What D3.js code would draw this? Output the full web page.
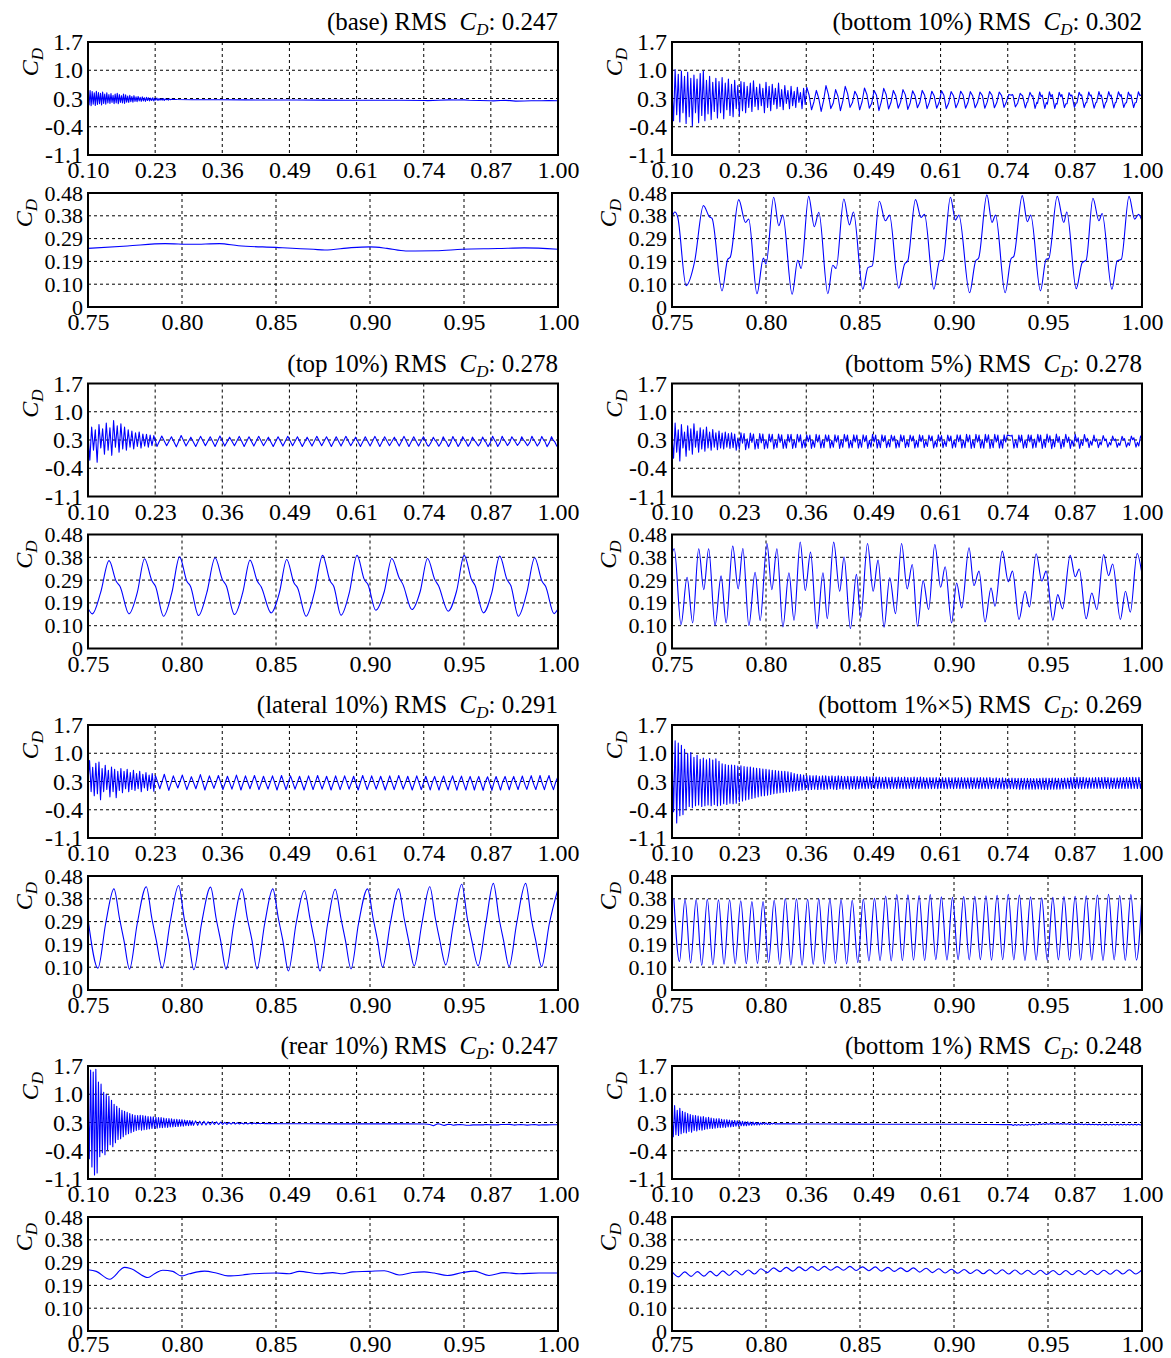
<!DOCTYPE html>
<html>
<head>
<meta charset="utf-8">
<script src="https://cdn.jsdelivr.net/npm/d3@7"></script>
<style>
  body { margin: 0; background: #fff; }
  svg text { font-family: "Liberation Serif", "Times New Roman", serif; }
</style>
</head>
<body>
<div id="chart"></div>
<script>
// ---- axis ticks ----
const topXTicks = [0.10, 0.2286, 0.3571, 0.4857, 0.6143, 0.7429, 0.8714, 1.00];
const topYTicks = [-1.1, -0.4, 0.3, 1.0, 1.7];
const topYLabels = ["-1.1", "-0.4", "0.3", "1.0", "1.7"];
const zoomXTicks = [0.75, 0.80, 0.85, 0.90, 0.95, 1.00];
const zoomYTicks = [0, 0.096, 0.192, 0.288, 0.384, 0.48];
const zoomYLabels = ["0", "0.10", "0.19", "0.29", "0.38", "0.48"];

// ---- panel names and RMS values ----
const caseNames = ["base", "bottom 10%", "top 10%", "bottom 5%", "lateral 10%", "bottom 1%\u00d75", "rear 10%", "bottom 1%"];
const rmsValues = ["0.247", "0.302", "0.278", "0.278", "0.291", "0.269", "0.247", "0.248"];

// ---- base ----
// evenly sampled 0.10 -> 0.26
const baseEarly = [0.46,0.14,0.50,0.12,0.47,0.16,0.44,0.13,0.48,0.15,
  0.45,0.17,0.43,0.14,0.46,0.18,0.41,0.16,0.44,0.19,
  0.40,0.18,0.42,0.20,0.38,0.17,0.41,0.19,0.43,0.17,
  0.40,0.20,0.37,0.19,0.41,0.18,0.39,0.21,0.36,0.20,
  0.38,0.22,0.35,0.21,0.37,0.23,0.34,0.22,0.35,0.24,
  0.33,0.23,0.34,0.24,0.32,0.23,0.33,0.25,0.32,0.24,
  0.31,0.25,0.32,0.24,0.30,0.26,0.31,0.25,0.30,0.26,
  0.29,0.26,0.30,0.25,0.29,0.27,0.28,0.26,0.29,0.27,0.28];
const baseLate = [[0.27,0.275],[0.30,0.27],[0.35,0.268],[0.40,0.265],[0.45,0.262],[0.50,0.262],
  [0.55,0.26],[0.60,0.258],[0.65,0.257],[0.70,0.256],[0.745,0.25]];
const baseZoom = [[0.75,0.247],[0.771,0.257],[0.791,0.267],[0.805,0.264],[0.82,0.267],[0.83,0.258],
  [0.85,0.251],[0.87,0.243],[0.876,0.240],[0.89,0.25],[0.90,0.253],[0.909,0.247],[0.919,0.236],
  [0.935,0.237],[0.949,0.243],[0.968,0.246],[0.982,0.249],[1.0,0.243]];

// ---- bottom 10% ----
// evenly sampled 0.10 -> 0.355
const b10Early = [0.55,-0.25,1.02,-0.10,0.90,-0.28,0.98,-0.05,0.85,-0.32,
  0.95,-0.15,0.80,-0.38,0.88,-0.05,0.78,-0.30,0.92,-0.12,
  0.98,-0.25,0.75,-0.08,0.85,-0.22,0.70,-0.02,0.80,-0.18,
  0.72,-0.05,0.82,-0.20,0.68,0.02,0.78,-0.12,0.65,-0.15,
  0.75,0.05,0.62,-0.12,0.72,0.00,0.70,-0.05,0.60,0.08,
  0.68,-0.02,0.74,0.10,0.58,0.02,0.66,0.12,0.55,-0.05,
  0.70,0.08,0.60,0.00,0.65,0.15,0.55,0.05,0.68,0.10,
  0.52,0.02,0.62,0.18,0.50,0.05,0.60,0.12,0.48,0.08,
  0.58,0.20,0.45,0.05,0.55,0.15];
// evenly sampled 0.358 -> 0.745 (peak, dip, trough, shoulder per cycle)
const b10Mid = [0.58,0.38,0.02,0.22, 0.50,0.30,-0.02,0.25, 0.62,0.40,0.05,0.18, 0.52,0.35,0.00,0.24,
  0.60,0.42,0.08,0.20, 0.48,0.36,0.02,0.22, 0.56,0.40,0.06,0.18, 0.50,0.38,0.00,0.22,
  0.55,0.40,0.04,0.20, 0.50,0.37,0.06,0.21, 0.52,0.39,0.03,0.19, 0.49,0.37,0.07,0.20,
  0.50,0.38,0.05,0.21, 0.48,0.36,0.06,0.20, 0.49,0.38,0.05,0.19, 0.47,0.37,0.07,0.21,
  0.48,0.38,0.06,0.20, 0.47,0.36,0.07,0.20, 0.46,0.37,0.06,0.21, 0.47,0.38,0.07,0.20,
  0.46,0.37,0.08,0.22, 0.40];
const b10Zoom = [[0.7501,0.38],[0.7515,0.40],[0.7530,0.38],[0.7575,0.09],[0.7620,0.19],[0.7667,0.427],
  [0.7699,0.38],[0.7713,0.373],[0.7766,0.068],[0.7796,0.20],[0.7810,0.21],[0.7855,0.452],
  [0.7891,0.356],[0.7908,0.37],[0.7952,0.056],[0.7986,0.206],[0.8000,0.18],[0.8041,0.462],
  [0.8068,0.342],[0.8089,0.387],[0.8139,0.054],[0.8169,0.197],[0.8187,0.162],[0.8227,0.466],
  [0.8257,0.338],[0.8281,0.399],[0.8329,0.056],[0.8355,0.176],[0.8373,0.162],[0.8414,0.455],
  [0.8444,0.346],[0.8465,0.40],[0.8515,0.075],[0.8542,0.166],[0.8565,0.173],[0.8603,0.445],
  [0.8635,0.363],[0.8657,0.387],[0.8706,0.079],[0.8737,0.18],[0.8754,0.194],[0.8795,0.452],
  [0.8825,0.377],[0.8843,0.39],[0.8893,0.075],[0.8923,0.194],[0.8941,0.198],[0.8981,0.462],
  [0.9008,0.366],[0.9026,0.387],[0.9083,0.06],[0.9115,0.194],[0.9131,0.206],[0.9175,0.472],
  [0.9202,0.356],[0.9221,0.387],[0.9272,0.06],[0.9304,0.204],[0.9318,0.213],[0.9363,0.469],
  [0.9390,0.359],[0.9408,0.387],[0.9460,0.068],[0.9490,0.201],[0.9504,0.204],[0.9549,0.466],
  [0.9584,0.356],[0.9600,0.40],[0.9650,0.077],[0.9682,0.187],[0.9703,0.197],[0.9739,0.458],
  [0.9771,0.363],[0.9788,0.394],[0.9840,0.075],[0.9868,0.194],[0.9890,0.201],[0.9931,0.466],
  [0.9961,0.37],[0.9982,0.39],[1.0,0.363]];

// ---- top 10% ----
// evenly sampled 0.10 -> 0.226
const t10Early = [0.45,-0.20,0.62,0.05,0.55,-0.25,0.68,0.10,0.58,-0.05,
  0.72,0.05,0.60,-0.08,0.78,0.12,0.65,0.00,0.70,0.08,
  0.62,0.05,0.55,0.12,0.52,0.08,0.48,0.14,0.50,0.10,
  0.45,0.15,0.44,0.12,0.42,0.16,0.41];
// evenly sampled 0.232 -> 0.7423 (trough, peak)
const t10Mid = [0.14,0.40,0.16,0.38,0.13,0.41,0.15,0.37,0.14,0.39,
  0.16,0.38,0.14,0.40,0.15,0.37,0.16,0.39,0.14,0.38,
  0.15,0.39,0.16,0.37,0.14,0.38,0.15,0.39,0.16,0.38,
  0.14,0.37,0.15,0.39,0.16,0.38,0.14,0.38,0.15,0.39,
  0.16,0.37,0.14,0.38,0.15,0.39,0.14,0.38,0.16,0.37,
  0.15,0.39,0.14,0.38,0.15,0.38];
const t10Zoom = [[0.7500,0.17],[0.7523,0.146],[0.7567,0.235],[0.7612,0.37],[0.7650,0.283],[0.7670,0.262],
  [0.7718,0.146],[0.7762,0.235],[0.7801,0.378],[0.7840,0.285],[0.7859,0.262],
  [0.7902,0.136],[0.7946,0.235],[0.7987,0.386],[0.8026,0.283],[0.8045,0.262],
  [0.8088,0.139],[0.8132,0.235],[0.8176,0.382],[0.8215,0.29],[0.8235,0.265],
  [0.8279,0.143],[0.8323,0.235],[0.8362,0.372],[0.8401,0.283],[0.8421,0.26],
  [0.8474,0.150],[0.8518,0.235],[0.8557,0.375],[0.8596,0.276],[0.8615,0.255],
  [0.8660,0.136],[0.8704,0.235],[0.8748,0.392],[0.8787,0.285],[0.8807,0.262],
  [0.8846,0.140],[0.8890,0.235],[0.8931,0.392],[0.8970,0.29],[0.8989,0.27],
  [0.9031,0.161],[0.9076,0.24],[0.9116,0.379],[0.9155,0.298],[0.9175,0.27],
  [0.9223,0.164],[0.9267,0.24],[0.9306,0.379],[0.9345,0.29],[0.9364,0.265],
  [0.9416,0.157],[0.9460,0.24],[0.9501,0.392],[0.9540,0.29],[0.9559,0.265],
  [0.9603,0.150],[0.9648,0.235],[0.9690,0.389],[0.9729,0.29],[0.9749,0.265],
  [0.9789,0.136],[0.9834,0.235],[0.9876,0.382],[0.9915,0.283],[0.9934,0.262],
  [0.9979,0.147],[1.0,0.167]];

// ---- bottom 5% ----
// evenly sampled 0.10 -> 0.22
const b5Early = [0.40,-0.15,0.72,0.00,0.55,-0.22,0.68,0.10,0.50,-0.10,
  0.65,0.05,0.58,-0.05,0.70,0.12,0.52,0.00,0.60,0.08,
  0.55,0.02,0.62,0.10,0.50,0.05,0.56,0.12,0.48,0.06,
  0.52,0.10,0.47,0.08,0.50,0.12,0.46,0.09,0.48,0.11,0.45];
// evenly sampled 0.223 -> 0.742
const b5Mid = [0.05,0.35,0.08,0.48,0.22,0.46, 0.06,0.33,0.10,0.47,0.24,0.45, 0.07,0.32,0.09,0.46,0.23,0.45,
  0.08,0.31,0.10,0.45,0.25,0.44, 0.08,0.30,0.11,0.45,0.24,0.43, 0.09,0.31,0.10,0.44,0.25,0.44,
  0.09,0.30,0.11,0.44,0.25,0.43, 0.10,0.30,0.11,0.43,0.26,0.42, 0.09,0.29,0.12,0.44,0.25,0.42,
  0.10,0.30,0.11,0.43,0.26,0.42, 0.10,0.29,0.12,0.43,0.25,0.41, 0.09,0.30,0.12,0.44,0.26,0.42,
  0.10,0.29,0.11,0.43,0.25,0.42, 0.10,0.30,0.12,0.43,0.26,0.41, 0.09,0.29,0.12,0.44,0.25,0.42,
  0.10,0.30,0.11,0.43,0.26,0.41, 0.11,0.28,0.13,0.42,0.27,0.40, 0.10,0.29,0.12,0.43,0.26,0.41,
  0.11,0.28,0.13,0.42,0.27,0.40, 0.10,0.29,0.12,0.43,0.26,0.41, 0.11,0.27,0.14,0.42,0.28,0.40,
  0.10,0.28,0.13,0.43,0.26,0.41, 0.11,0.28,0.14,0.42,0.27,0.40, 0.10,0.29,0.12,0.43,0.26,0.42,
  0.10,0.30,0.11,0.44,0.25,0.42, 0.09,0.30,0.11,0.44,0.25,0.42, 0.10,0.31,0.10,0.44,0.24,0.43,
  0.09,0.30,0.11,0.44,0.25,0.42, 0.10,0.31,0.10,0.43,0.25,0.42];
const b5Zoom = [[0.75,0.40],[0.7512,0.42],[0.7548,0.10],[0.7580,0.30],[0.7610,0.108],[0.7642,0.42],
  [0.7669,0.248],[0.7695,0.42],[0.7729,0.097],[0.7761,0.306],[0.7788,0.108],[0.7823,0.431],
  [0.7852,0.251],[0.7877,0.421],[0.7909,0.097],[0.7942,0.321],[0.7969,0.118],[0.8005,0.442],
  [0.8031,0.248],[0.8058,0.42],[0.8090,0.091],[0.8122,0.319],[0.8149,0.119],[0.8182,0.448],
  [0.8209,0.244],[0.8237,0.406],[0.8271,0.084],[0.8303,0.319],[0.8326,0.126],[0.8360,0.448],
  [0.8392,0.241],[0.8415,0.385],[0.8449,0.084],[0.8481,0.312],[0.8504,0.129],[0.8540,0.442],
  [0.8570,0.241],[0.8596,0.372],[0.8628,0.09],[0.8658,0.298],[0.8689,0.147],[0.8721,0.442],
  [0.8751,0.251],[0.8778,0.354],[0.8806,0.094],[0.8836,0.286],[0.8865,0.164],[0.8898,0.438],
  [0.8929,0.258],[0.8953,0.344],[0.8987,0.108],[0.9014,0.276],[0.9041,0.171],[0.9080,0.424],
  [0.9106,0.265],[0.9133,0.326],[0.9165,0.112],[0.9197,0.255],[0.9218,0.178],[0.9257,0.41],
  [0.9289,0.281],[0.9311,0.326],[0.9346,0.122],[0.9378,0.241],[0.9401,0.175],[0.9437,0.399],
  [0.9467,0.284],[0.9490,0.326],[0.9526,0.119],[0.9552,0.227],[0.9577,0.167],[0.9618,0.392],
  [0.9645,0.302],[0.9666,0.335],[0.9703,0.125],[0.9733,0.234],[0.9760,0.164],[0.9796,0.396],
  [0.9822,0.307],[0.9844,0.356],[0.9885,0.122],[0.9912,0.241],[0.9938,0.153],[0.9974,0.40],
  [1.0,0.312]];

// ---- lateral 10% ----
// evenly sampled 0.10 -> 0.229
const latEarly = [0.30,0.82,0.05,0.65,-0.05,0.75,0.00,0.78,-0.15,0.62,
  0.05,0.70,0.10,0.58,-0.08,0.66,0.05,0.60,-0.10,0.55,
  0.08,0.62,0.02,0.55,0.12,0.60,0.05,0.52,0.10,0.58,
  0.08,0.50,0.12,0.55,0.05,0.48,0.14,0.52,0.08,0.46,
  0.12,0.50,0.06,0.45];
// evenly sampled 0.2375 -> 0.7468 (trough, peak)
const latMid = [0.12,0.48,0.08,0.44,0.14,0.46,0.10,0.42,0.12,0.47,
  0.09,0.44,0.13,0.45,0.10,0.43,0.11,0.46,0.09,0.44,
  0.12,0.45,0.10,0.43,0.11,0.44,0.09,0.45,0.10,0.44,
  0.11,0.43,0.09,0.44,0.10,0.45,0.11,0.43,0.09,0.44,
  0.10,0.44,0.11,0.43,0.09,0.45,0.10,0.44,0.11,0.43,
  0.09,0.44,0.10,0.45,0.11,0.43,0.09,0.44,0.10,0.43];
const latZoom = [[0.75,0.30],
  [0.7553,0.092],[0.7594,0.28],[0.7638,0.426],[0.7668,0.30],[0.7691,0.21],
  [0.7721,0.088],[0.7762,0.28],[0.7810,0.435],[0.7840,0.30],[0.7863,0.21],
  [0.7895,0.092],[0.7936,0.28],[0.7982,0.44],[0.8012,0.30],[0.8035,0.21],
  [0.8063,0.085],[0.8104,0.28],[0.8152,0.433],[0.8182,0.30],[0.8205,0.21],
  [0.8235,0.088],[0.8276,0.28],[0.8318,0.426],[0.8348,0.30],[0.8372,0.21],
  [0.8399,0.089],[0.8440,0.28],[0.8483,0.426],[0.8513,0.30],[0.8536,0.21],
  [0.8566,0.080],[0.8607,0.28],[0.8651,0.419],[0.8681,0.30],[0.8704,0.21],
  [0.8734,0.080],[0.8775,0.28],[0.8815,0.424],[0.8846,0.30],[0.8869,0.21],
  [0.8899,0.089],[0.8939,0.28],[0.8987,0.426],[0.9017,0.30],[0.9040,0.21],
  [0.9067,0.096],[0.9108,0.28],[0.9152,0.426],[0.9182,0.30],[0.9205,0.21],
  [0.9235,0.102],[0.9276,0.28],[0.9318,0.435],[0.9348,0.30],[0.9371,0.21],
  [0.9403,0.106],[0.9444,0.28],[0.9488,0.445],[0.9518,0.30],[0.9541,0.21],
  [0.9575,0.102],[0.9616,0.28],[0.9656,0.449],[0.9687,0.30],[0.9710,0.21],
  [0.9740,0.099],[0.9780,0.28],[0.9828,0.449],[0.9858,0.30],[0.9881,0.21],
  [0.9913,0.099],[0.9954,0.28],[1.0,0.426]];

// ---- bottom 1% x5 ----
// evenly sampled 0.10 -> 0.358
const b15Early = [1.05,-0.45,1.31,-0.73,1.25,-0.55,1.20,-0.52,1.10,-0.40,
  1.00,-0.32,1.02,-0.35,0.90,-0.30,0.95,-0.28,0.85,-0.32,
  0.88,-0.30,0.84,-0.28,0.87,-0.30,0.83,-0.27,0.86,-0.30,
  0.80,-0.29,0.74,-0.25,0.72,-0.27,0.70,-0.24,0.71,-0.25,
  0.70,-0.24,0.68,-0.20,0.69,-0.18,0.67,-0.16,0.66,-0.14,
  0.66,-0.12,0.64,-0.10,0.63,-0.08,0.62,-0.06,0.61,-0.05,
  0.60,-0.04,0.59,-0.02,0.58,0.00,0.57,0.01,0.56,0.02,
  0.55,0.03,0.55,0.04,0.54,0.05,0.52,0.06,0.50,0.07,
  0.48,0.08,0.47,0.09,0.46,0.10,0.45];
// evenly sampled 0.361 -> 0.748
const b15Mid = [0.09,0.45,0.10,0.44,0.11,0.45,0.10,0.43,0.11,0.44,0.10,0.44,0.11,0.43,0.12,0.44,
  0.11,0.43,0.10,0.44,0.12,0.43,0.11,0.42,0.12,0.43,0.11,0.42,0.12,0.43,0.11,0.42,
  0.12,0.42,0.13,0.41,0.12,0.42,0.13,0.41,0.12,0.42,0.13,0.41,0.12,0.41,0.13,0.40,
  0.12,0.41,0.13,0.40,0.12,0.41,0.13,0.40,0.12,0.41,0.13,0.40,0.13,0.41,0.12,0.40,
  0.13,0.40,0.12,0.41,0.13,0.40,0.12,0.41,0.13,0.40,0.12,0.39,0.13,0.40,0.12,0.39,
  0.13,0.40,0.12,0.39,0.13,0.40,0.12,0.39,0.12,0.40,0.13,0.39,0.12,0.40,0.13,0.39,
  0.12,0.40,0.13,0.39,0.12,0.39,0.13,0.40,0.12,0.39,0.13,0.39,0.12,0.40,0.12,0.39,
  0.13,0.39,0.12,0.40,0.12,0.38,0.13,0.39,0.12,0.38,0.12,0.39,0.11,0.38,0.12,0.38,
  0.12];
// evenly sampled 0.751 -> 1.0 (peak, trough)
const b15Zoom = [0.385,0.120,0.382,0.114,0.381,0.104,0.382,0.107,0.380,0.109,
  0.380,0.110,0.376,0.111,0.372,0.112,0.372,0.116,0.378,0.108,
  0.385,0.106,0.384,0.104,0.382,0.108,0.384,0.110,0.383,0.112,
  0.381,0.110,0.378,0.116,0.383,0.122,0.386,0.124,0.396,0.122,
  0.402,0.124,0.401,0.126,0.398,0.124,0.402,0.128,0.392,0.126,
  0.390,0.128,0.393,0.127,0.395,0.128,0.397,0.126,0.399,0.128,
  0.403,0.127,0.400,0.124,0.392,0.126,0.388,0.125,0.390,0.127,
  0.393,0.126,0.395,0.125,0.397,0.126,0.400,0.124,0.403,0.127,
  0.398,0.125,0.402,0.126,0.400];

// ---- rear 10% ----
// evenly sampled 0.10 -> 0.30
const rearEarly = [0.90,-0.60,1.60,-0.80,1.55,-1.00,1.62,-0.95,1.30,-0.55,
  1.25,-0.45,1.05,-0.50,1.00,-0.38,0.95,-0.25,0.85,-0.30,
  0.75,-0.20,0.70,-0.12,0.65,-0.10,0.60,-0.05,0.58,0.00,
  0.55,0.02,0.52,0.05,0.50,0.08,0.48,0.10,0.47,0.12,
  0.48,0.11,0.47,0.12,0.46,0.13,0.45,0.14,0.44,0.15,
  0.44,0.15,0.43,0.16,0.42,0.17,0.42,0.17,0.41,0.18,
  0.40,0.18,0.40,0.19,0.39,0.19,0.38,0.20,0.38,0.20,
  0.37,0.21,0.37,0.21,0.36,0.22,0.35,0.22,0.35,0.23,0.34];
// evenly sampled 0.302 -> 0.45
const rearMid = [0.23,0.34,0.23,0.33,0.24,0.33,0.24,0.32,0.245,0.32,
  0.25,0.315,0.25,0.31,0.255,0.305,0.255,0.30,0.26,0.30,
  0.26,0.295,0.262,0.29,0.264,0.29,0.265,0.285,0.266,0.285,
  0.267,0.282,0.268,0.28,0.268,0.278,0.269,0.275];
const rearLate = [[0.47,0.27],[0.52,0.268],[0.58,0.266],[0.64,0.266],[0.70,0.266],[0.745,0.262]];
const rearZoom = [[0.75,0.258],[0.7544,0.251],[0.7615,0.218],[0.7695,0.268],[0.7730,0.262],[0.7819,0.225],
  [0.7854,0.241],[0.7898,0.256],[0.7951,0.251],[0.7996,0.232],[0.8040,0.241],[0.8120,0.252],
  [0.8182,0.244],[0.8244,0.232],[0.8323,0.236],[0.8376,0.241],[0.8500,0.244],[0.8571,0.241],
  [0.8624,0.251],[0.8730,0.241],[0.8801,0.246],[0.8854,0.241],[0.8908,0.249],[0.8996,0.251],
  [0.9076,0.254],[0.9155,0.236],[0.9226,0.246],[0.9288,0.249],[0.9341,0.244],[0.9412,0.234],
  [0.9492,0.246],[0.9554,0.252],[0.9633,0.234],[0.9713,0.246],[0.9793,0.241],[0.9899,0.244],
  [1.0,0.244]];

// ---- bottom 1% ----
// evenly sampled 0.10 -> 0.30
const b1Early = [0.45,-0.05,0.72,0.00,0.60,-0.02,0.65,0.02,0.58,0.05,
  0.55,0.04,0.52,0.08,0.50,0.06,0.48,0.10,0.47,0.09,
  0.46,0.12,0.44,0.11,0.45,0.13,0.42,0.14,0.43,0.15,
  0.41,0.15,0.40,0.16,0.39,0.17,0.40,0.17,0.38,0.18,
  0.37,0.18,0.37,0.19,0.36,0.19,0.35,0.20,0.35,0.21,
  0.34,0.21,0.33,0.22,0.33,0.22,0.32,0.22,0.32,0.23,
  0.31,0.23,0.31,0.24,0.30,0.24,0.30,0.24,0.29,0.25,
  0.29,0.25,0.29,0.25,0.28,0.25,0.28,0.26,0.28,0.26,0.27];
const b1Late = [[0.32,0.265],[0.36,0.262],[0.40,0.262],[0.45,0.26],[0.50,0.258],[0.55,0.258],
  [0.60,0.256],[0.65,0.256],[0.70,0.252],[0.745,0.248]];
// evenly sampled 0.75 -> 1.0
const b1Zoom = [0.250,0.228,0.249,0.230,0.250,0.231,0.251,0.232,0.253,0.234,
  0.255,0.236,0.257,0.240,0.262,0.246,0.266,0.250,0.268,0.252,
  0.270,0.254,0.271,0.255,0.272,0.256,0.271,0.256,0.272,0.255,
  0.270,0.254,0.270,0.252,0.268,0.251,0.266,0.250,0.266,0.248,
  0.264,0.246,0.262,0.244,0.260,0.243,0.259,0.242,0.258,0.241,
  0.258,0.240,0.258,0.240,0.257,0.239,0.256,0.238,0.256,0.238,
  0.255,0.237,0.255,0.237,0.255,0.238,0.256,0.238,0.256,0.239,
  0.257,0.240,0.258,0.240,0.258];

// place evenly sampled values between two times
function even(t0, t1, vals) {
  const n = vals.length - 1;
  return vals.map((v, i) => [t0 + (t1 - t0) * i / n, v]);
}

const zoomSeries = [
  baseZoom,
  b10Zoom,
  t10Zoom,
  b5Zoom,
  latZoom,
  even(0.751, 1.0, b15Zoom),
  rearZoom,
  even(0.75, 1.0, b1Zoom)
];
const fullSeries = [
  [...even(0.10, 0.26, baseEarly), ...baseLate, ...zoomSeries[0]],
  [...even(0.10, 0.355, b10Early), ...even(0.358, 0.745, b10Mid), ...zoomSeries[1]],
  [...even(0.10, 0.226, t10Early), ...even(0.232, 0.7423, t10Mid), ...zoomSeries[2]],
  [...even(0.10, 0.22, b5Early), ...even(0.223, 0.742, b5Mid), ...zoomSeries[3]],
  [...even(0.10, 0.229, latEarly), ...even(0.2375, 0.7468, latMid), ...zoomSeries[4]],
  [...even(0.10, 0.358, b15Early), ...even(0.361, 0.748, b15Mid), ...zoomSeries[5]],
  [...even(0.10, 0.30, rearEarly), ...even(0.302, 0.45, rearMid), ...rearLate, ...zoomSeries[6]],
  [...even(0.10, 0.30, b1Early), ...b1Late, ...zoomSeries[7]]
];

// ---- layout ----
const width = 1171, height = 1358;
const colLeft = [88, 672];
const plotW = 470;
const rowTop = [42, 383.5, 725, 1066];
const topH = 113, zoomOffset = 151, zoomH = 114;
const fontSize = 24;

const svg = d3.select("#chart")
  .append("svg")
  .attr("width", width)
  .attr("height", height)
  .style("background-color", "white");

function cdLabel(sel) {
  sel.append("tspan").attr("font-style", "italic").text("C");
  sel.append("tspan").attr("font-style", "italic").attr("font-size", 17).attr("dy", 5).text("D");
}

function drawPanel(x0, y0, h, xDomain, yDomain, xTicks, xFmt, yTicks, yLabels, data, curve, labelDx, yFont, xPad) {
  const x = d3.scaleLinear().domain(xDomain).range([x0, x0 + plotW]);
  const y = d3.scaleLinear().domain(yDomain).range([y0 + h, y0]);
  const g = svg.append("g");

  // grid
  g.selectAll(".vgrid")
    .data(xTicks.slice(1, -1))
    .enter()
    .append("line")
    .attr("x1", d => x(d)).attr("x2", d => x(d))
    .attr("y1", y0).attr("y2", y0 + h)
    .attr("stroke", "#000").attr("stroke-width", 1)
    .attr("stroke-dasharray", "3,3");
  g.selectAll(".hgrid")
    .data(yTicks.slice(1, -1))
    .enter()
    .append("line")
    .attr("x1", x0).attr("x2", x0 + plotW)
    .attr("y1", d => y(d)).attr("y2", d => y(d))
    .attr("stroke", "#000").attr("stroke-width", 1)
    .attr("stroke-dasharray", "3,3");

  // series
  const line = d3.line().x(d => x(d[0])).y(d => y(d[1])).curve(curve);
  g.append("path")
    .datum(data.filter(d => d[0] >= xDomain[0] - 1e-9 && d[0] <= xDomain[1] + 1e-9))
    .attr("d", line)
    .attr("fill", "none")
    .attr("stroke", "#0000ff")
    .attr("stroke-width", 1.1)
    .attr("stroke-linejoin", "round");

  // frame
  g.append("rect")
    .attr("x", x0).attr("y", y0)
    .attr("width", plotW).attr("height", h)
    .attr("fill", "none")
    .attr("stroke", "#000")
    .attr("stroke-width", 2);

  // X axis
  g.append("g")
    .attr("transform", `translate(0,${y0 + h})`)
    .call(d3.axisBottom(x).tickValues(xTicks).tickFormat(xFmt).tickSize(0).tickPadding(xPad))
    .call(a => a.select(".domain").remove())
    .attr("font-family", null)
    .attr("font-size", fontSize);

  // Y axis
  g.append("g")
    .attr("transform", `translate(${x0},0)`)
    .call(d3.axisLeft(y).tickValues(yTicks).tickFormat((d, i) => yLabels[i]).tickSize(0).tickPadding(5))
    .call(a => a.select(".domain").remove())
    .attr("font-family", null)
    .attr("font-size", yFont);

  // Y label
  g.append("text")
    .attr("transform", `translate(${x0 + labelDx},${y0 + 20}) rotate(-90)`)
    .attr("text-anchor", "middle")
    .attr("font-size", fontSize)
    .call(cdLabel);
}

caseNames.forEach((name, i) => {
  const col = i % 2, row = Math.floor(i / 2);
  const x0 = colLeft[col], y0 = rowTop[row];

  // title
  const title = svg.append("text")
    .attr("x", x0 + plotW)
    .attr("y", y0 - 12)
    .attr("text-anchor", "end")
    .attr("font-size", 25);
  title.append("tspan").text(`(${name}) RMS\u2002`);
  cdLabel(title);
  title.append("tspan").attr("dy", -5).text(`: ${rmsValues[i]}`);

  drawPanel(x0, y0, topH, [0.10, 1.00], [-1.1, 1.7], topXTicks, d3.format(".2f"),
    topYTicks, topYLabels, fullSeries[i], d3.curveLinear, -50, fontSize, 6);

  drawPanel(x0, y0 + zoomOffset, zoomH, [0.75, 1.00], [0, 0.48], zoomXTicks, d3.format(".2f"),
    zoomYTicks, zoomYLabels, zoomSeries[i], d3.curveMonotoneX, -56, 22, row === 3 ? 4 : 6);
});
</script>
</body>
</html>
